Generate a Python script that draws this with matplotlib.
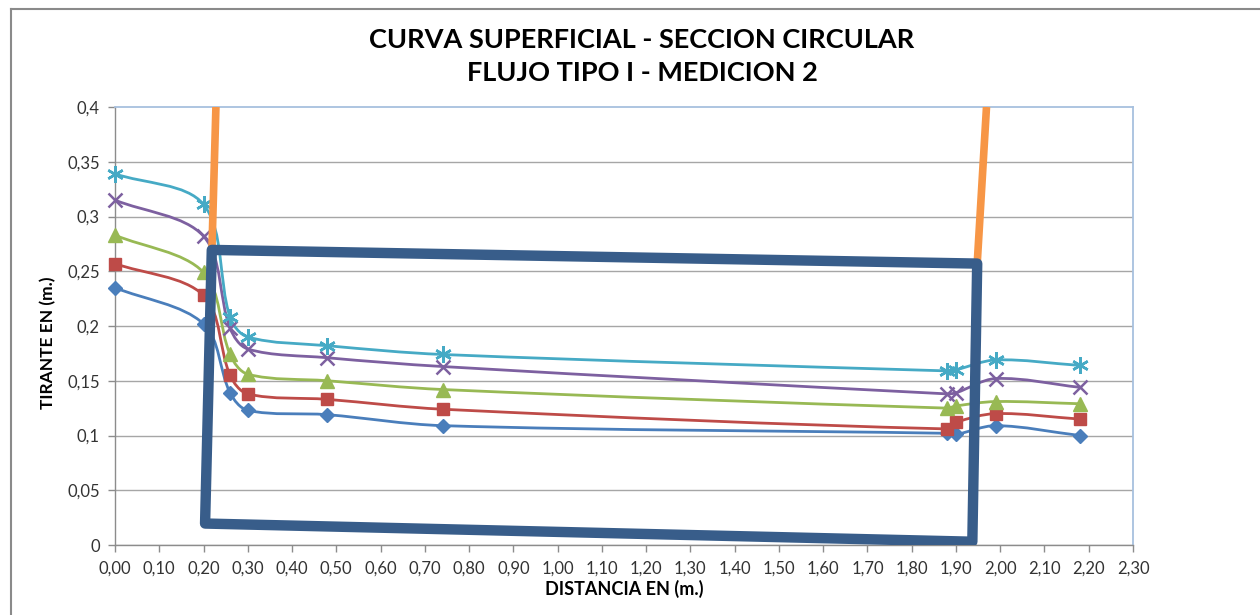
import numpy as np
import matplotlib
matplotlib.use("Agg")
import matplotlib.pyplot as plt
from matplotlib.path import Path
from matplotlib.patches import PathPatch, Polygon
from matplotlib.lines import Line2D

# ---- data ----
distancia = [0.00, 0.20, 0.26, 0.30, 0.48, 0.74, 1.88, 1.90, 1.99, 2.18]
serie_1 = [0.235, 0.202, 0.139, 0.123, 0.119, 0.109, 0.102, 0.101, 0.109, 0.100]
serie_2 = [0.257, 0.228, 0.155, 0.138, 0.133, 0.124, 0.106, 0.112, 0.120, 0.115]
serie_3 = [0.283, 0.249, 0.174, 0.156, 0.150, 0.142, 0.125, 0.127, 0.131, 0.129]
serie_4 = [0.315, 0.282, 0.198, 0.179, 0.171, 0.163, 0.138, 0.139, 0.152, 0.144]
serie_5 = [0.339, 0.311, 0.208, 0.190, 0.182, 0.174, 0.159, 0.160, 0.169, 0.164]

orange_left_x = [0.228, 0.219]
orange_left_y = [0.400, 0.270]
orange_right_x = [1.969, 1.948]
orange_right_y = [0.400, 0.257]

box_x = [0.2035, 0.2187, 1.948, 1.937]
box_y = [0.0196, 0.2695, 0.257, 0.003]

x_ticks = [i / 10 for i in range(0, 24)]
x_tick_labels = [f"{v:.2f}".replace(".", ",") for v in x_ticks]
y_ticks = [0, 0.05, 0.1, 0.15, 0.2, 0.25, 0.3, 0.35, 0.4]
y_tick_labels = ["0", "0,05", "0,1", "0,15", "0,2", "0,25", "0,3", "0,35", "0,4"]

title_1 = "CURVA SUPERFICIAL - SECCION CIRCULAR"
title_2 = "FLUJO TIPO I - MEDICION 2"
x_label = "DISTANCIA EN (m.)"
y_label = "TIRANTE EN (m.)"

# ---- figure ----
W, H = 1260, 615
fig = plt.figure(figsize=(W / 100, H / 100), dpi=100)
L, R, B, T = 115, 1133, 545, 107
ax = fig.add_axes([L / W, (H - B) / H, (R - L) / W, (B - T) / H])
ax.set_xlim(0, 2.3)
ax.set_ylim(0, 0.4)

font = "Lato"
fam = [font, "DejaVu Sans"]
plt.rcParams["font.family"] = fam

# pixel scale for smoothing
sx = (R - L) / 2.3
sy = (B - T) / 0.4


def smooth_path(xs, ys):
    P = np.column_stack([np.array(xs) * sx, np.array(ys) * sy])
    n = len(P)
    verts = [P[0]]
    codes = [Path.MOVETO]
    for i in range(n - 1):
        p0 = P[i - 1] if i > 0 else P[i]
        p1 = P[i]
        p2 = P[i + 1]
        p3 = P[i + 2] if i + 2 < n else P[i + 1]
        d01 = np.linalg.norm(p1 - p0)
        d12 = np.linalg.norm(p2 - p1)
        d23 = np.linalg.norm(p3 - p2)
        c1 = p1 + (p2 - p0) * d12 / (d01 + d12) / 3 if d01 + d12 > 0 else p1
        c2 = p2 - (p3 - p1) * d12 / (d12 + d23) / 3 if d12 + d23 > 0 else p2
        verts += [c1, c2, p2]
        codes += [Path.CURVE4] * 3
    verts = np.array(verts)
    verts[:, 0] /= sx
    verts[:, 1] /= sy
    return Path(verts, codes)


series = [
    (serie_1, "#4A7EBB", "D", 7.5, dict()),
    (serie_2, "#BE4B48", "s", 9, dict()),
    (serie_3, "#98B954", "^", 9.5, dict()),
    (serie_4, "#7D60A0", "x", 9.5, dict(markeredgewidth=1.8)),
    (serie_5, "#46AAC5", (6, 2, 0), 12, dict(markeredgewidth=1.8)),
]

for ys, col, mk, ms, kw in series:
    ax.add_patch(PathPatch(smooth_path(distancia, ys), facecolor="none",
                           edgecolor=col, lw=2.0, zorder=3))
    ax.plot(distancia, ys, linestyle="none", marker=mk, markersize=ms,
            color=col, markeredgecolor=col, zorder=4, clip_on=False, **kw)

ax.plot(orange_left_x, orange_left_y, color="#F79646", lw=5.5,
        solid_capstyle="butt", zorder=5)
ax.plot(orange_right_x, orange_right_y, color="#F79646", lw=5.5,
        solid_capstyle="butt", zorder=5)

ax.add_patch(Polygon(list(zip(box_x, box_y)), closed=True, facecolor="none",
                     edgecolor="#385D8A", lw=7.5, joinstyle="round", zorder=6))

# grid
for yv in y_ticks[:-1]:
    ax.axhline(yv, color="#A6A6A6", lw=1.0, zorder=1)

for s in ["top", "right"]:
    ax.spines[s].set_color("#A7C0DE")
    ax.spines[s].set_linewidth(1.3)
for s in ["left", "bottom"]:
    ax.spines[s].set_color("#8C8C8C")
    ax.spines[s].set_linewidth(1.0)

ax.set_xticks(x_ticks)
ax.set_xticklabels(x_tick_labels, fontsize=12, family=fam, color="#333333")
ax.set_yticks(y_ticks)
ax.set_yticklabels(y_tick_labels, fontsize=12, family=fam, color="#333333")
ax.tick_params(axis="both", direction="out", length=5, width=1,
               color="#8C8C8C")
ax.tick_params(axis="x", pad=6)
ax.tick_params(axis="y", pad=6)

fig.text(642 / W, 1 - 40 / H, title_1, ha="center", va="center",
         fontsize=19.5, fontweight="bold", family=fam)
fig.text(642 / W, 1 - 73 / H, title_2, ha="center", va="center",
         fontsize=19.5, fontweight="bold", family=fam)
fig.text(624 / W, 1 - 589 / H, x_label, ha="center", va="center",
         fontsize=13, fontweight="bold", family=fam)
fig.text(48 / W, 1 - 343 / H, y_label, ha="center", va="center",
         rotation=90, fontsize=12.5, fontweight="bold", family=fam)

# outer chart border (partial, as cropped)
fig.add_artist(Line2D([11 / W, 1], [1 - 9 / H, 1 - 9 / H],
                      transform=fig.transFigure, color="#8A8A8A", lw=1.5))
fig.add_artist(Line2D([11 / W, 11 / W], [0, 1 - 9 / H],
                      transform=fig.transFigure, color="#8A8A8A", lw=1.5))

fig.savefig("out.png", dpi=100, facecolor="white")
